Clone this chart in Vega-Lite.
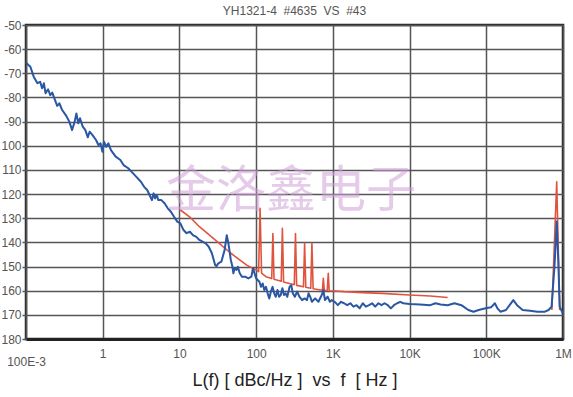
{
  "$schema": "https://vega.github.io/schema/vega-lite/v6.json",
  "width": 537,
  "height": 314,
  "autosize": "none",
  "padding": {"left": 26, "top": 25, "right": 10, "bottom": 58},
  "background": "white",
  "config": {
    "font": "Liberation Sans",
    "view": {"stroke": "#262626", "strokeWidth": 2.5}
  },
  "title": {
    "text": "YH1321-4\u00a0 #4635\u00a0 VS\u00a0 #43",
    "fontSize": 12,
    "fontWeight": "normal",
    "color": "#555555",
    "anchor": "middle",
    "offset": 1
  },
  "datasets": {
    "blue": [
      {"f": 0.1, "v": -65.6}, {"f": 0.114, "v": -67.3}, {"f": 0.126, "v": -71.4}, {"f": 0.141, "v": -74.1},
      {"f": 0.153, "v": -73.5}, {"f": 0.162, "v": -76.2}, {"f": 0.171, "v": -74.1}, {"f": 0.18, "v": -78.3},
      {"f": 0.194, "v": -76.6}, {"f": 0.207, "v": -79.0}, {"f": 0.22, "v": -78.0}, {"f": 0.239, "v": -81.1},
      {"f": 0.255, "v": -83.5}, {"f": 0.272, "v": -82.4}, {"f": 0.296, "v": -85.2}, {"f": 0.33, "v": -87.3},
      {"f": 0.367, "v": -90.0}, {"f": 0.399, "v": -93.5}, {"f": 0.431, "v": -90.0}, {"f": 0.454, "v": -86.6},
      {"f": 0.48, "v": -90.7}, {"f": 0.506, "v": -88.6}, {"f": 0.55, "v": -92.1}, {"f": 0.594, "v": -93.5},
      {"f": 0.64, "v": -96.5}, {"f": 0.675, "v": -94.2}, {"f": 0.733, "v": -95.5}, {"f": 0.818, "v": -97.6},
      {"f": 0.88, "v": -99.7}, {"f": 0.938, "v": -99.0}, {"f": 0.991, "v": -102.5}, {"f": 1.038, "v": -98.3},
      {"f": 1.111, "v": -100.4}, {"f": 1.186, "v": -99.0}, {"f": 1.28, "v": -101.8}, {"f": 1.476, "v": -104.5},
      {"f": 1.701, "v": -105.9}, {"f": 1.869, "v": -108.0}, {"f": 2.154, "v": -109.3}, {"f": 2.366, "v": -110.7},
      {"f": 2.729, "v": -112.8}, {"f": 3.146, "v": -114.9}, {"f": 3.467, "v": -117.0}, {"f": 3.802, "v": -118.3},
      {"f": 4.18, "v": -121.1}, {"f": 4.385, "v": -122.5}, {"f": 4.603, "v": -119.7}, {"f": 4.82, "v": -121.8},
      {"f": 5.06, "v": -120.4}, {"f": 5.31, "v": -122.5}, {"f": 5.82, "v": -122.5}, {"f": 6.4, "v": -123.8},
      {"f": 7.05, "v": -125.9}, {"f": 7.74, "v": -127.3}, {"f": 8.51, "v": -129.4}, {"f": 9.37, "v": -131.4},
      {"f": 10.3, "v": -132.1}, {"f": 11.3, "v": -134.9}, {"f": 12.4, "v": -136.2}, {"f": 13.7, "v": -135.6},
      {"f": 15.0, "v": -137.0}, {"f": 16.6, "v": -137.7}, {"f": 18.2, "v": -139.0}, {"f": 20.0, "v": -139.7},
      {"f": 22.0, "v": -140.4}, {"f": 24.1, "v": -141.8}, {"f": 26.5, "v": -144.5}, {"f": 29.2, "v": -149.4},
      {"f": 30.5, "v": -149.8}, {"f": 32.1, "v": -148.7}, {"f": 35.2, "v": -148.0}, {"f": 38.8, "v": -143.2},
      {"f": 41.4, "v": -137.0}, {"f": 43.5, "v": -140.4}, {"f": 46.8, "v": -147.3}, {"f": 49.1, "v": -150.1},
      {"f": 50.5, "v": -152.8}, {"f": 52.5, "v": -150.7}, {"f": 55.5, "v": -151.4}, {"f": 57.8, "v": -150.1},
      {"f": 61.1, "v": -152.8}, {"f": 65.3, "v": -154.2}, {"f": 71.8, "v": -154.2}, {"f": 79.1, "v": -154.9},
      {"f": 86.7, "v": -154.2}, {"f": 91.0, "v": -150.7}, {"f": 95.3, "v": -152.8}, {"f": 100, "v": -154.9},
      {"f": 110.3, "v": -156.3}, {"f": 115.8, "v": -158.4}, {"f": 121.8, "v": -157.0}, {"f": 127.7, "v": -159.7},
      {"f": 134.3, "v": -158.4}, {"f": 141.3, "v": -161.1}, {"f": 148.2, "v": -163.2}, {"f": 155.6, "v": -160.4},
      {"f": 163.7, "v": -158.4}, {"f": 171.8, "v": -161.1}, {"f": 180.3, "v": -162.5}, {"f": 189.7, "v": -159.7},
      {"f": 199.1, "v": -162.5}, {"f": 209.4, "v": -161.8}, {"f": 219.9, "v": -159.0}, {"f": 230.6, "v": -161.8},
      {"f": 242.7, "v": -161.1}, {"f": 254.7, "v": -162.5}, {"f": 272.9, "v": -158.4}, {"f": 287.1, "v": -157.7},
      {"f": 300.6, "v": -161.1}, {"f": 319.2, "v": -162.5}, {"f": 342.6, "v": -160.4}, {"f": 366.8, "v": -162.5},
      {"f": 397.2, "v": -163.9}, {"f": 428.5, "v": -163.2}, {"f": 460.3, "v": -163.9}, {"f": 482.3, "v": -161.1},
      {"f": 507.0, "v": -162.5}, {"f": 533.3, "v": -164.6}, {"f": 587.5, "v": -163.2}, {"f": 648.6, "v": -164.6},
      {"f": 716.6, "v": -161.8}, {"f": 751.6, "v": -159.7}, {"f": 789, "v": -163.9}, {"f": 855, "v": -162.5},
      {"f": 916, "v": -164.6}, {"f": 962, "v": -163.9}, {"f": 1058, "v": -164.6}, {"f": 1161, "v": -166.0},
      {"f": 1277, "v": -164.6}, {"f": 1400, "v": -165.2}, {"f": 1538, "v": -166.0}, {"f": 1691, "v": -165.2},
      {"f": 1854, "v": -166.6}, {"f": 2036, "v": -166.0}, {"f": 2239, "v": -167.3}, {"f": 2455, "v": -165.2},
      {"f": 2692, "v": -166.6}, {"f": 2962, "v": -166.0}, {"f": 3250, "v": -165.2}, {"f": 3566, "v": -166.6},
      {"f": 3926, "v": -165.2}, {"f": 4305, "v": -166.0}, {"f": 4722, "v": -165.2}, {"f": 5200, "v": -166.0},
      {"f": 5702, "v": -167.3}, {"f": 6252, "v": -166.0}, {"f": 6883, "v": -165.2}, {"f": 7551, "v": -164.6},
      {"f": 8283, "v": -165.2}, {"f": 10000, "v": -165.5}, {"f": 13650, "v": -165.7}, {"f": 18620, "v": -166.0},
      {"f": 21770, "v": -165.2}, {"f": 25420, "v": -165.7}, {"f": 31330, "v": -166.0}, {"f": 38460, "v": -165.2},
      {"f": 47420, "v": -166.0}, {"f": 58350, "v": -168.0}, {"f": 68230, "v": -168.7}, {"f": 79620, "v": -168.0},
      {"f": 97950, "v": -167.3}, {"f": 115400, "v": -166.9}, {"f": 129300, "v": -165.2}, {"f": 139700, "v": -167.3},
      {"f": 152800, "v": -168.7}, {"f": 180600, "v": -168.0}, {"f": 201500, "v": -166.0}, {"f": 225000, "v": -163.9},
      {"f": 251800, "v": -166.0}, {"f": 297700, "v": -168.0}, {"f": 371500, "v": -168.3}, {"f": 464500, "v": -168.7},
      {"f": 580800, "v": -168.7}, {"f": 648900, "v": -168.0}, {"f": 709900, "v": -166.6}, {"f": 774000, "v": -150.1},
      {"f": 828000, "v": -131.4}, {"f": 867000, "v": -147.3}, {"f": 906000, "v": -166.6}, {"f": 991000, "v": -169.4}
    ],
    "red": [
      {"seg": "a", "f": 10.3, "v": -126.6}, {"seg": "a", "f": 13.7, "v": -129.5}, {"seg": "a", "f": 18.2, "v": -133.5},
      {"seg": "a", "f": 29.2, "v": -139.0}, {"seg": "a", "f": 46.8, "v": -144.5}, {"seg": "a", "f": 75.3, "v": -149.4},
      {"seg": "a", "f": 100, "v": -151.4}, {"seg": "a", "f": 107.7, "v": -152.1}, {"seg": "a", "f": 112.5, "v": -125.9},
      {"seg": "a", "f": 117.7, "v": -152.7}, {"seg": "a", "f": 134.3, "v": -154.2}, {"seg": "a", "f": 159.6, "v": -155.0},
      {"seg": "a", "f": 165.3, "v": -136.3}, {"seg": "a", "f": 171.0, "v": -155.3}, {"seg": "a", "f": 212.4, "v": -156.1},
      {"seg": "a", "f": 219.8, "v": -134.2}, {"seg": "a", "f": 228.0, "v": -156.4}, {"seg": "a", "f": 314.2, "v": -157.5},
      {"seg": "a", "f": 325.8, "v": -136.3}, {"seg": "a", "f": 337.3, "v": -157.8}, {"seg": "a", "f": 414, "v": -158.4},
      {"seg": "a", "f": 428.5, "v": -140.4}, {"seg": "a", "f": 443.6, "v": -158.6}, {"seg": "a", "f": 515.2, "v": -159.0},
      {"seg": "a", "f": 533.3, "v": -140.4}, {"seg": "a", "f": 553, "v": -159.2}, {"seg": "a", "f": 730, "v": -159.8},
      {"seg": "a", "f": 751.6, "v": -154.9}, {"seg": "a", "f": 774.5, "v": -159.9}, {"seg": "a", "f": 845, "v": -159.9},
      {"seg": "a", "f": 871, "v": -152.8}, {"seg": "a", "f": 897, "v": -160.0}, {"seg": "a", "f": 1058, "v": -160.1},
      {"seg": "a", "f": 1400, "v": -160.4}, {"seg": "a", "f": 2455, "v": -160.8}, {"seg": "a", "f": 4305, "v": -161.1},
      {"seg": "a", "f": 10000, "v": -161.8}, {"seg": "a", "f": 18620, "v": -162.2}, {"seg": "a", "f": 31330, "v": -162.8},
      {"seg": "b", "f": 716000, "v": -168.0}, {"seg": "b", "f": 828000, "v": -114.9}, {"seg": "b", "f": 906000, "v": -168.0}
    ],
    "mark": [
      {"f": 285, "v": -119, "label": "金洛鑫电子"}
    ]
  },
  "encoding": {
    "x": {
      "field": "f",
      "type": "quantitative",
      "scale": {"type": "log", "domain": [0.1, 1000000], "nice": false},
      "axis": {
        "title": "L(f) [ dBc/Hz ]\u00a0 vs\u00a0 f\u00a0 [ Hz ]",
        "titleFontSize": 18,
        "titleFontWeight": "normal",
        "titleColor": "#222222",
        "titlePadding": 4,
        "values": [0.1, 1, 10, 100, 1000, 10000, 100000, 1000000],
        "labelExpr": "datum.value < 0.5 ? '100E-3' : datum.value >= 1e6 ? '1M' : datum.value >= 1e5 ? '100K' : datum.value >= 1e4 ? '10K' : datum.value >= 1e3 ? '1K' : datum.value >= 100 ? '100' : datum.value >= 10 ? '10' : '1'",
        "labelFontSize": 12,
        "labelColor": "#555555",
        "labelPadding": {"condition": {"test": "datum.value < 0.5", "value": 17}, "value": 9},
        "labelFlush": false,
        "labelOverlap": false,
        "ticks": false,
        "grid": true,
        "gridColor": "#555555",
        "gridWidth": 1.5,
        "domainColor": "#222222",
        "domainWidth": 3
      }
    },
    "y": {
      "field": "v",
      "type": "quantitative",
      "scale": {"domain": [-180, -50], "nice": false, "zero": false},
      "axis": {
        "title": null,
        "values": [-180, -170, -160, -150, -140, -130, -120, -110, -100, -90, -80, -70, -60, -50],
        "labelExpr": "datum.value > -100 ? '-' + abs(datum.value) : '' + abs(datum.value)",
        "labelFontSize": 12,
        "labelColor": "#555555",
        "labelPadding": 1,
        "tickSize": 4,
        "tickColor": "#555555",
        "tickWidth": 1.5,
        "grid": true,
        "gridColor": "#555555",
        "gridWidth": 1.5,
        "domain": false
      }
    }
  },
  "layer": [
    {
      "data": {"name": "mark"},
      "mark": {"type": "text", "font": "Noto Sans CJK SC", "fontSize": 50, "color": "#d0a0d8", "opacity": 0.55, "baseline": "middle", "align": "center"},
      "encoding": {"text": {"field": "label"}}
    },
    {
      "data": {"name": "red"},
      "mark": {"type": "line", "color": "#e0543e", "strokeWidth": 1.6, "strokeJoin": "round"},
      "encoding": {"detail": {"field": "seg"}}
    },
    {
      "data": {"name": "blue"},
      "mark": {"type": "line", "color": "#2957a4", "strokeWidth": 2, "strokeJoin": "round"},
      "encoding": {}
    }
  ]
}
